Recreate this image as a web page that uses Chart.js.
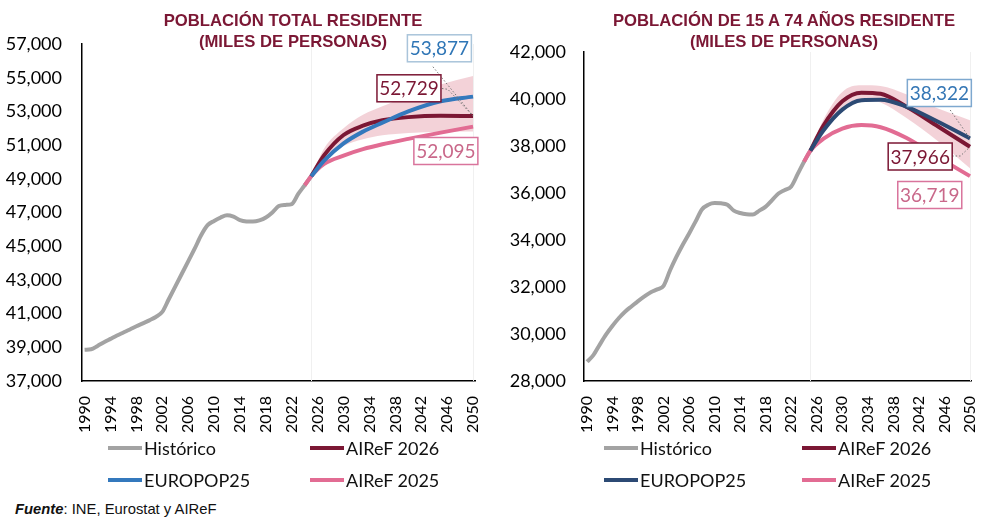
<!DOCTYPE html>
<html>
<head>
<meta charset="utf-8">
<script src="https://cdn.jsdelivr.net/npm/chart.js@4.4.1/dist/chart.umd.min.js"></script>
<style>
  body { margin: 0; background: #fff; }
  #wrap { position: relative; width: 987px; height: 523px; overflow: hidden; font-family: Lato, sans-serif; }
  canvas { position: absolute; top: 0; }
  .title { position: absolute; top: 10px; font: bold 16.7px "Liberation Sans", Arial, sans-serif; color: #7b1734;
           text-align: center; line-height: 21px; white-space: nowrap; transform: translateX(-50%); }
  .item { position: absolute; display: flex; align-items: center; white-space: nowrap; font-size: 18px; color: #111; height: 22px; }
  .item .ln { width: 34px; height: 4px; margin-right: 2px; }
  .source { position: absolute; left: 15px; top: 501px; font: 14.8px "Liberation Sans", Arial, sans-serif; color: #111; }
</style>
</head>
<body>
<div id="wrap">
  <canvas id="totalChart" width="490" height="440" style="left:0"></canvas>
  <canvas id="workChart" width="497" height="440" style="left:490px"></canvas>
  <div class="title" style="left:293px">POBLACIÓN TOTAL RESIDENTE<br>(MILES DE PERSONAS)</div>
  <div class="title" style="left:784px">POBLACIÓN DE 15 A 74 AÑOS RESIDENTE<br>(MILES DE PERSONAS)</div>
  <div id="legendLeft"></div>
  <div id="legendRight"></div>
  <div class="source"><b><i>Fuente</i></b>: INE, Eurostat y AIReF</div>
</div>
<script>
// años
const histYears = [1990, 1991, 1992, 1993, 1994, 1995, 1996, 1997, 1998, 1999, 2000, 2001, 2002, 2003, 2004, 2005, 2006, 2007,
                   2008, 2009, 2010, 2011, 2012, 2013, 2014, 2015, 2016, 2017, 2018, 2019, 2020, 2021, 2022, 2023, 2024, 2025];
const projYears = [2024, 2025, 2027, 2030, 2033, 2036, 2040, 2045, 2050];
const tickYears = [1990, 1994, 1998, 2002, 2006, 2010, 2014, 2018, 2022, 2026, 2030, 2034, 2038, 2042, 2046, 2050];

const seriesNames = ['Histórico', 'AIReF 2026', 'EUROPOP25', 'AIReF 2025'];

// población total residente (miles)
const totalHist = [38850, 38880, 39080, 39300, 39500, 39700, 39880, 40060, 40250, 40420, 40600, 40800, 41100, 41850, 42600, 43350, 44100, 44850,
                   45650, 46250, 46500, 46700, 46830, 46750, 46550, 46470, 46460, 46530, 46700, 47000, 47380, 47450, 47500, 48100, 48620, 49150];
const totalAiref26 = [null, 49150, 50400, 51600, 52150, 52470, 52660, 52740, 52729];
const totalEuropop = [null, 49150, 50080, 51100, 51800, 52330, 53000, 53600, 53877];
const totalAiref25 = [48620, 49150, 49880, 50380, 50760, 51050, 51370, 51740, 52095];
const totalBandLow = [null, 49150, 50150, 50950, 51350, 51580, 51720, 51790, 51800];
const totalBandHigh = [null, 49150, 50800, 52000, 52800, 53300, 53950, 54600, 55100];

// población 15-74 residente (miles)
const workHist = [28820, 29100, 29550, 29980, 30350, 30680, 30960, 31180, 31400, 31600, 31780, 31900, 32050, 32700, 33280, 33800, 34280, 34780,
                  35300, 35500, 35570, 35560, 35500, 35250, 35150, 35100, 35090, 35250, 35420, 35700, 35980, 36130, 36280, 36800, 37330, 37800];
const workAiref26 = [null, 37800, 38850, 39900, 40270, 40220, 39680, 38830, 37966];
const workEuropop = [null, 37800, 38650, 39550, 39950, 39970, 39680, 39030, 38322];
const workAiref25 = [37330, 37800, 38300, 38740, 38890, 38800, 38350, 37520, 36719];
const workBandLow = [null, 37800, 38700, 39650, 40000, 39850, 39200, 38200, 37050];
const workBandHigh = [null, 37800, 39100, 40300, 40580, 40550, 40200, 39600, 39100];

const GREY = '#a3a3a3';
const MAROON = '#7b1734';
const PINK = '#e26c93';
const BAND = 'rgba(232, 165, 178, 0.5)';

function pts(xs, ys) {
    return xs.map((x, i) => ({ x: x, y: ys[i] }));
}

function lineSet(label, xs, ys, color, order) {
    return {
        label: label,
        data: pts(xs, ys),
        borderColor: color,
        borderWidth: 4,
        pointRadius: 0,
        fill: false,
        cubicInterpolationMode: 'monotone',
        order: order
    };
}

function fmt(v) {
    return v.toLocaleString('en-US');
}

// cajas con el valor final y lineas de guia
function boxPlugin(boxes) {
    return {
        id: 'valueBoxes',
        beforeDatasetsDraw(chart) {
            const { ctx, chartArea, scales: { x } } = chart;
            ctx.save();
            ctx.strokeStyle = '#f0f0f0';
            ctx.lineWidth = 1;
            [2025, 2050].forEach(yr => {
                const px = Math.round(x.getPixelForValue(yr)) + 0.5;
                ctx.beginPath();
                ctx.moveTo(px, chartArea.top);
                ctx.lineTo(px, chartArea.bottom);
                ctx.stroke();
            });
            ctx.restore();
        },
        afterDatasetsDraw(chart) {
            const { ctx, scales: { x, y } } = chart;
            ctx.save();
            boxes.forEach(b => {
                if (b.leader) {
                    ctx.beginPath();
                    ctx.setLineDash([1.5, 2]);
                    ctx.strokeStyle = '#777';
                    ctx.lineWidth = 1;
                    b.leader.forEach((p, i) => {
                        const px = x.getPixelForValue(p[0]);
                        const py = y.getPixelForValue(p[1]);
                        if (i === 0) ctx.moveTo(px, py); else ctx.lineTo(px, py);
                    });
                    ctx.stroke();
                    ctx.setLineDash([]);
                }
                const cx = x.getPixelForValue(b.at[0]);
                const cy = y.getPixelForValue(b.at[1]);
                ctx.fillStyle = '#fff';
                ctx.fillRect(cx - 32, cy - 13.5, 64, 27);
                ctx.strokeStyle = b.border;
                ctx.lineWidth = 1.5;
                ctx.strokeRect(cx - 32, cy - 13.5, 64, 27);
                ctx.fillStyle = b.color;
                ctx.font = '19px Lato';
                ctx.textAlign = 'center';
                ctx.textBaseline = 'middle';
                ctx.fillText(b.text, cx, cy + 1);
            });
            ctx.restore();
        }
    };
}

function makeChart(id, s) {
    const ctx = document.getElementById(id).getContext('2d');
    return new Chart(ctx, {
        type: 'line',
        plugins: [boxPlugin(s.boxes)],
        data: {
            datasets: [
                { label: 'banda inf', data: pts(projYears, s.bandLow), borderWidth: 0, pointRadius: 0,
                  fill: false, cubicInterpolationMode: 'monotone', order: 6 },
                { label: 'banda sup', data: pts(projYears, s.bandHigh), borderWidth: 0, pointRadius: 0,
                  backgroundColor: BAND, fill: '-1', cubicInterpolationMode: 'monotone', order: 5 },
                lineSet(seriesNames[0], histYears, s.hist, GREY, 4),
                lineSet(seriesNames[3], projYears, s.airef25, PINK, 3),
                lineSet(seriesNames[1], projYears, s.airef26, MAROON, 2),
                lineSet(seriesNames[2], projYears, s.europop, s.blue, 1)
            ]
        },
        options: {
            responsive: false,
            animation: false,
            layout: { padding: { top: s.padTop, right: s.padRight, left: 0, bottom: 0 } },
            plugins: {
                legend: { display: false },
                tooltip: { enabled: false }
            },
            scales: {
                x: {
                    type: 'linear',
                    min: s.xMin,
                    max: s.xMax,
                    grid: { display: false, drawTicks: false },
                    border: { display: true, color: '#000', width: 1.5 },
                    afterBuildTicks: sc => { sc.ticks = tickYears.map(v => ({ value: v })); },
                    afterFit: sc => {
                        sc.height = 59;
                        sc.paddingLeft = 0;
                        sc.paddingRight = 0;
                    },
                    ticks: {
                        autoSkip: false,
                        minRotation: 90,
                        maxRotation: 90,
                        padding: 15,
                        color: '#000',
                        font: { family: 'Lato', size: 16 },
                        callback: v => String(v)
                    }
                },
                y: {
                    min: s.yMin,
                    max: s.yMax,
                    grid: { display: false, drawTicks: false },
                    border: { display: true, color: '#000', width: 1.5 },
                    afterFit: sc => { sc.width = s.yWidth; },
                    ticks: {
                        stepSize: 2000,
                        padding: s.tickPad,
                        color: '#000',
                        font: { family: 'Lato', size: 18 },
                        callback: v => fmt(v)
                    }
                }
            }
        }
    });
}

const last = arr => arr[arr.length - 1];

makeChart('totalChart', {
    hist: totalHist, airef26: totalAiref26, europop: totalEuropop, airef25: totalAiref25,
    bandLow: totalBandLow, bandHigh: totalBandHigh, blue: '#3479bd',
    xMin: 1989.6, xMax: 2050.3, yMin: 37000, yMax: 57000,
    padTop: 44, padRight: 15, yWidth: 82, tickPad: 20,
    boxes: [
        { text: fmt(last(totalEuropop)), at: [2044.8, 56745], color: '#2f76b6', border: '#a9c4da',
          leader: [[2043.8, 55650], [2050, last(totalAiref26)]] },
        { text: fmt(last(totalAiref26)), at: [2040.1, 54371], color: MAROON, border: MAROON,
          leader: [[2045.2, 54359], [2046.1, 54312], [2050, last(totalAiref26)]] },
        { text: fmt(last(totalAiref25)), at: [2045.8, 50650], color: '#c9688a', border: '#d9749c' }
    ]
});

makeChart('workChart', {
    hist: workHist, airef26: workAiref26, europop: workEuropop, airef25: workAiref25,
    bandLow: workBandLow, bandHigh: workBandHigh, blue: '#2c4a74',
    xMin: 1989.53, xMax: 2050.16, yMin: 28000, yMax: 42000,
    padTop: 52, padRight: 16, yWidth: 94, tickPad: 18,
    boxes: [
        { text: fmt(last(workEuropop)), at: [2045.2, 40255], color: '#3577b5', border: '#7ea8cf',
          leader: [[2046.9, 39532], [2050, last(workEuropop)]] },
        { text: fmt(last(workAiref26)), at: [2042.2, 37553], color: MAROON, border: MAROON,
          leader: [[2047.2, 37574], [2048.5, 37574], [2050, last(workAiref26)]] },
        { text: fmt(last(workAiref25)), at: [2043.7, 35915], color: '#c9688a', border: '#d9749c' }
    ]
});

// leyendas
function buildLegend(elId, colX, rowY, colors) {
    const el = document.getElementById(elId);
    const order = [0, 1, 2, 3];
    order.forEach(i => {
        const item = document.createElement('div');
        item.className = 'item';
        item.style.left = colX[i % 2] + 'px';
        item.style.top = (rowY[Math.floor(i / 2)] - 11) + 'px';
        item.innerHTML = '<span class="ln" style="background:' + colors[i] + '"></span>' + seriesNames[i];
        el.appendChild(item);
    });
}
// orden en la leyenda: Histórico, AIReF 2026, EUROPOP25, AIReF 2025
buildLegend('legendLeft', [108, 310], [448, 480], [GREY, MAROON, '#3479bd', PINK]);
buildLegend('legendRight', [604, 802], [448, 480], [GREY, MAROON, '#2c4a74', PINK]);
</script>
</body>
</html>
